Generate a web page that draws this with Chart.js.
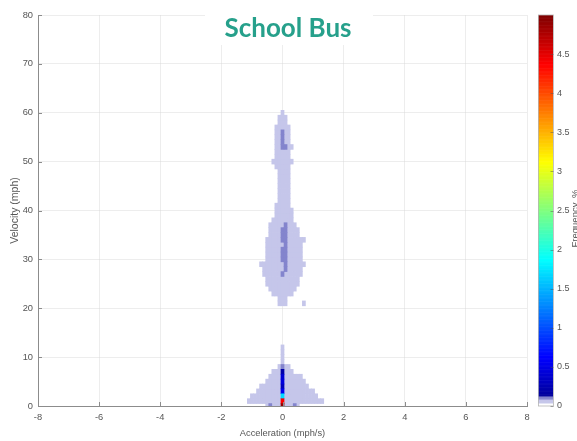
<!DOCTYPE html>
<html><head><meta charset="utf-8">
<script src="https://cdn.jsdelivr.net/npm/chart.js@4.4.1/dist/chart.umd.min.js"></script>
<style>html,body{margin:0;padding:0;background:#fff;}canvas{display:block;}</style>
</head><body>
<canvas id="c" width="577" height="441"></canvas>
<script>
// ---------- text ----------
const chartTitle = 'School Bus';
const xTitle = 'Acceleration (mph/s)';
const yTitle = 'Velocity (mph)';
const colorTitle = 'Frequency, %';

// ---------- ticks ----------
const xTicks = [-8, -6, -4, -2, 0, 2, 4, 6, 8];
const yTicks = [0, 10, 20, 30, 40, 50, 60, 70, 80];
const colorTicks = [0, 0.5, 1, 1.5, 2, 2.5, 3, 3.5, 4, 4.5];

// ---------- data: bin sizes ----------
const accBin = 0.1;   // mph/s
const velBin = 1;     // mph

// occupied rows of the histogram: velocity bin and acceleration extent (light cells)
const rowVelocity = [0, 1, 2, 3, 4, 5, 6, 7, 8, 9, 10, 11, 12,
  21, 22, 23, 24, 25, 26, 27, 28, 29, 30, 31, 32, 33, 34, 35, 36, 37, 38, 39, 40,
  41, 42, 43, 44, 45, 46, 47, 48, 49, 50, 51, 52, 53, 54, 55, 56, 57, 58, 59, 60];
const rowAccMin = [-0.5, -1.1, -1.0, -0.8, -0.7, -0.5, -0.4, -0.3, -0.1, 0, 0, 0, 0,
  -0.1, -0.1, -0.3, -0.4, -0.5, -0.5, -0.6, -0.6, -0.7, -0.5, -0.5, -0.5, -0.5, -0.5, -0.4, -0.4, -0.4, -0.3, -0.2, -0.2,
  -0.2, -0.1, -0.1, -0.1, -0.1, -0.1, -0.1, -0.1, -0.2, -0.3, -0.2, -0.2, -0.2, -0.2, -0.2, -0.2, -0.2, -0.1, -0.1, 0];
const rowAccMax = [0.5, 1.3, 1.1, 1.0, 0.8, 0.7, 0.6, 0.3, 0.2, 0, 0, 0, 0,
  0.1, 0.1, 0.3, 0.4, 0.5, 0.5, 0.6, 0.6, 0.7, 0.6, 0.6, 0.6, 0.6, 0.7, 0.5, 0.5, 0.4, 0.3, 0.3, 0.3,
  0.2, 0.2, 0.2, 0.2, 0.2, 0.2, 0.2, 0.2, 0.2, 0.3, 0.2, 0.2, 0.3, 0.2, 0.2, 0.2, 0.2, 0.1, 0.1, 0];
const rowFrequency = 0.06; // % for the light cells

// individual cells with higher frequency (%)
const peakAcc  = [0, 0.1, 0, 0, 0,
  0.1, 0, 0.1, 0, 0.1, 0, 0.1, 0.1, 0, 0.1, 0, 0.1, 0, 0.1, 0.1, 0.1, 0,
  0.7,
  -0.4, 0.4, 0, 0, 0, 0, 0, 0, 0, 0, 0];
const peakVel  = [53, 53, 54, 55, 56,
  37, 36, 36, 35, 35, 34, 34, 33, 32, 32, 31, 31, 30, 30, 29, 28, 27,
  21,
  0, 0, 8, 7, 6, 5, 4, 3, 2, 1, 0];
const peakFreq = [0.11, 0.11, 0.11, 0.11, 0.11,
  0.11, 0.11, 0.11, 0.11, 0.11, 0.11, 0.11, 0.11, 0.11, 0.11, 0.11, 0.11, 0.11, 0.11, 0.11, 0.11, 0.11,
  0.06,
  0.11, 0.11, 0.11, 0.2, 0.4, 0.45, 0.3, 0.55, 1.7, 4.4, 4.9];

const colorMin = 0, colorMax = 5;

// ---------- colour map (jet with pale low end) ----------
function jet(t) {
  const c = x => Math.max(0, Math.min(1, x));
  return [c(1.5 - Math.abs(4 * t - 3)), c(1.5 - Math.abs(4 * t - 2)), c(1.5 - Math.abs(4 * t - 1))];
}
function colorFor(f) {
  if (f < 0.04) return '#ffffff';
  if (f < 0.085) return '#c5c6ea';
  if (f < 0.135) return '#8384cd';
  const [r, g, b] = jet((f - colorMin) / (colorMax - colorMin));
  return `rgb(${Math.round(r * 255)},${Math.round(g * 255)},${Math.round(b * 255)})`;
}

// ---------- build cells ----------
const cellMap = new Map();
rowVelocity.forEach((v, i) => {
  const k0 = Math.round(rowAccMin[i] / accBin), k1 = Math.round(rowAccMax[i] / accBin);
  for (let k = k0; k <= k1; k++) cellMap.set(k + '|' + v, { k, v, f: rowFrequency });
});
peakAcc.forEach((a, i) => {
  const k = Math.round(a / accBin);
  cellMap.set(k + '|' + peakVel[i], { k, v: peakVel[i], f: peakFreq[i] });
});
const cells = [...cellMap.values()].sort((p, q) => p.f - q.f).map(c => ({
  x: +(c.k * accBin).toFixed(2),
  y: [c.v - velBin / 2, c.v + velBin / 2],
  f: c.f
}));

Chart.defaults.font.family = "'Liberation Sans', Arial, sans-serif";
const tickColor = '#555555';
const gridColor = 'rgba(215,215,215,0.45)';
const axisColor = '#8c8c8c';

const overlay = {
  id: 'overlay',
  afterDraw(chart) {
    const { ctx, chartArea: a, scales } = chart;
    const { x, y, yc } = scales;
    ctx.save();
    // inward tick marks
    ctx.strokeStyle = axisColor; ctx.lineWidth = 1;
    ctx.beginPath();
    yTicks.forEach(v => { const p = Math.round(y.getPixelForValue(v)) + 0.5; ctx.moveTo(a.left, p); ctx.lineTo(a.left + 4, p); });
    xTicks.forEach(v => { const p = Math.round(x.getPixelForValue(v)) + 0.5; ctx.moveTo(p, a.bottom); ctx.lineTo(p, a.bottom - 4); });
    ctx.stroke();

    // colour bar
    const bx = yc.left + 11, bw = 15;
    const n = 500;
    for (let i = 0; i < n; i++) {
      const v0 = colorMin + (colorMax - colorMin) * i / n, v1 = colorMin + (colorMax - colorMin) * (i + 1) / n;
      const p0 = yc.getPixelForValue(v0), p1 = yc.getPixelForValue(v1);
      ctx.fillStyle = colorFor((v0 + v1) / 2);
      ctx.fillRect(bx, p1, bw, p0 - p1 + 0.6);
    }
    const pt = yc.getPixelForValue(colorMax), pb = yc.getPixelForValue(colorMin);
    ctx.strokeStyle = '#b5b5b5'; ctx.lineWidth = 0.8;
    ctx.strokeRect(bx + 0.5, pt, bw, pb - pt);
    ctx.strokeStyle = 'rgba(80,80,80,0.6)';
    ctx.beginPath();
    colorTicks.forEach(v => { const p = Math.round(yc.getPixelForValue(v)) + 0.5; ctx.moveTo(bx + bw - 2.5, p); ctx.lineTo(bx + bw + 0.5, p); });
    ctx.stroke();

    // colour bar title (clipped by the right edge)
    ctx.translate(chart.width + 1, (pt + pb) / 2 + 8);
    ctx.rotate(-Math.PI / 2);
    ctx.fillStyle = tickColor;
    ctx.font = "9.5px 'Liberation Sans', Arial, sans-serif";
    ctx.textAlign = 'center'; ctx.textBaseline = 'alphabetic';
    ctx.fillText(colorTitle, 0, 0);
    ctx.restore();

    // chart title on white box
    ctx.save();
    ctx.fillStyle = '#ffffff';
    ctx.fillRect(205, 0, 168, 45);
    ctx.fillStyle = '#26a08b';
    ctx.font = "bold 26px Lato, 'Open Sans', sans-serif";
    ctx.textAlign = 'center'; ctx.textBaseline = 'alphabetic';
    ctx.fillText(chartTitle, 288, 37);
    ctx.restore();
  }
};

new Chart(document.getElementById('c'), {
  type: 'bar',
  data: {
    datasets: [{
      data: cells,
      backgroundColor: c => colorFor(c.raw ? c.raw.f : 0),
      borderWidth: 0,
      barPercentage: 1,
      categoryPercentage: 1,
      clip: 0,
      xAxisID: 'x', yAxisID: 'y'
    }]
  },
  options: {
    responsive: false,
    animation: false,
    events: [],
    layout: { padding: { top: 15, left: 0, right: 0, bottom: 0 } },
    plugins: { legend: { display: false }, tooltip: { enabled: false }, title: { display: false } },
    scales: {
      x: {
        type: 'linear', position: 'bottom', min: -8, max: 8, offset: false, z: 1,
        afterBuildTicks: s => { s.ticks = xTicks.map(value => ({ value })); },
        afterFit: s => { s.height = 35; },
        grid: { color: gridColor, drawTicks: false, offset: false },
        border: { color: axisColor },
        ticks: { color: tickColor, font: { size: 9.3 }, padding: 6, maxRotation: 0, autoSkip: false, callback: v => String(v) },
        title: { display: true, text: xTitle, color: tickColor, font: { size: 9.3 }, padding: { top: 0, bottom: 2 } }
      },
      y: {
        type: 'linear', position: 'left', min: 0, max: 80, z: 1,
        afterBuildTicks: s => { s.ticks = yTicks.map(value => ({ value })); },
        afterFit: s => { s.width = 38; },
        grid: { color: gridColor, drawTicks: false },
        border: { color: axisColor },
        ticks: { color: tickColor, font: { size: 9.3 }, padding: 5, autoSkip: false, callback: v => String(v) },
        title: { display: true, text: yTitle, color: tickColor, font: { size: 10.5 }, padding: { top: 9, bottom: 0 } }
      },
      yc: {
        type: 'linear', position: 'right', min: colorMin, max: colorMax,
        afterBuildTicks: s => { s.ticks = colorTicks.map(value => ({ value })); },
        afterFit: s => { s.width = 50; },
        grid: { display: true, drawOnChartArea: false, drawTicks: true, tickLength: 26, color: 'rgba(0,0,0,0)' },
        border: { display: false },
        ticks: { color: tickColor, font: { size: 9 }, padding: 4, autoSkip: false, callback: v => String(v) }
      }
    }
  },
  plugins: [overlay]
});
</script>
</body></html>
